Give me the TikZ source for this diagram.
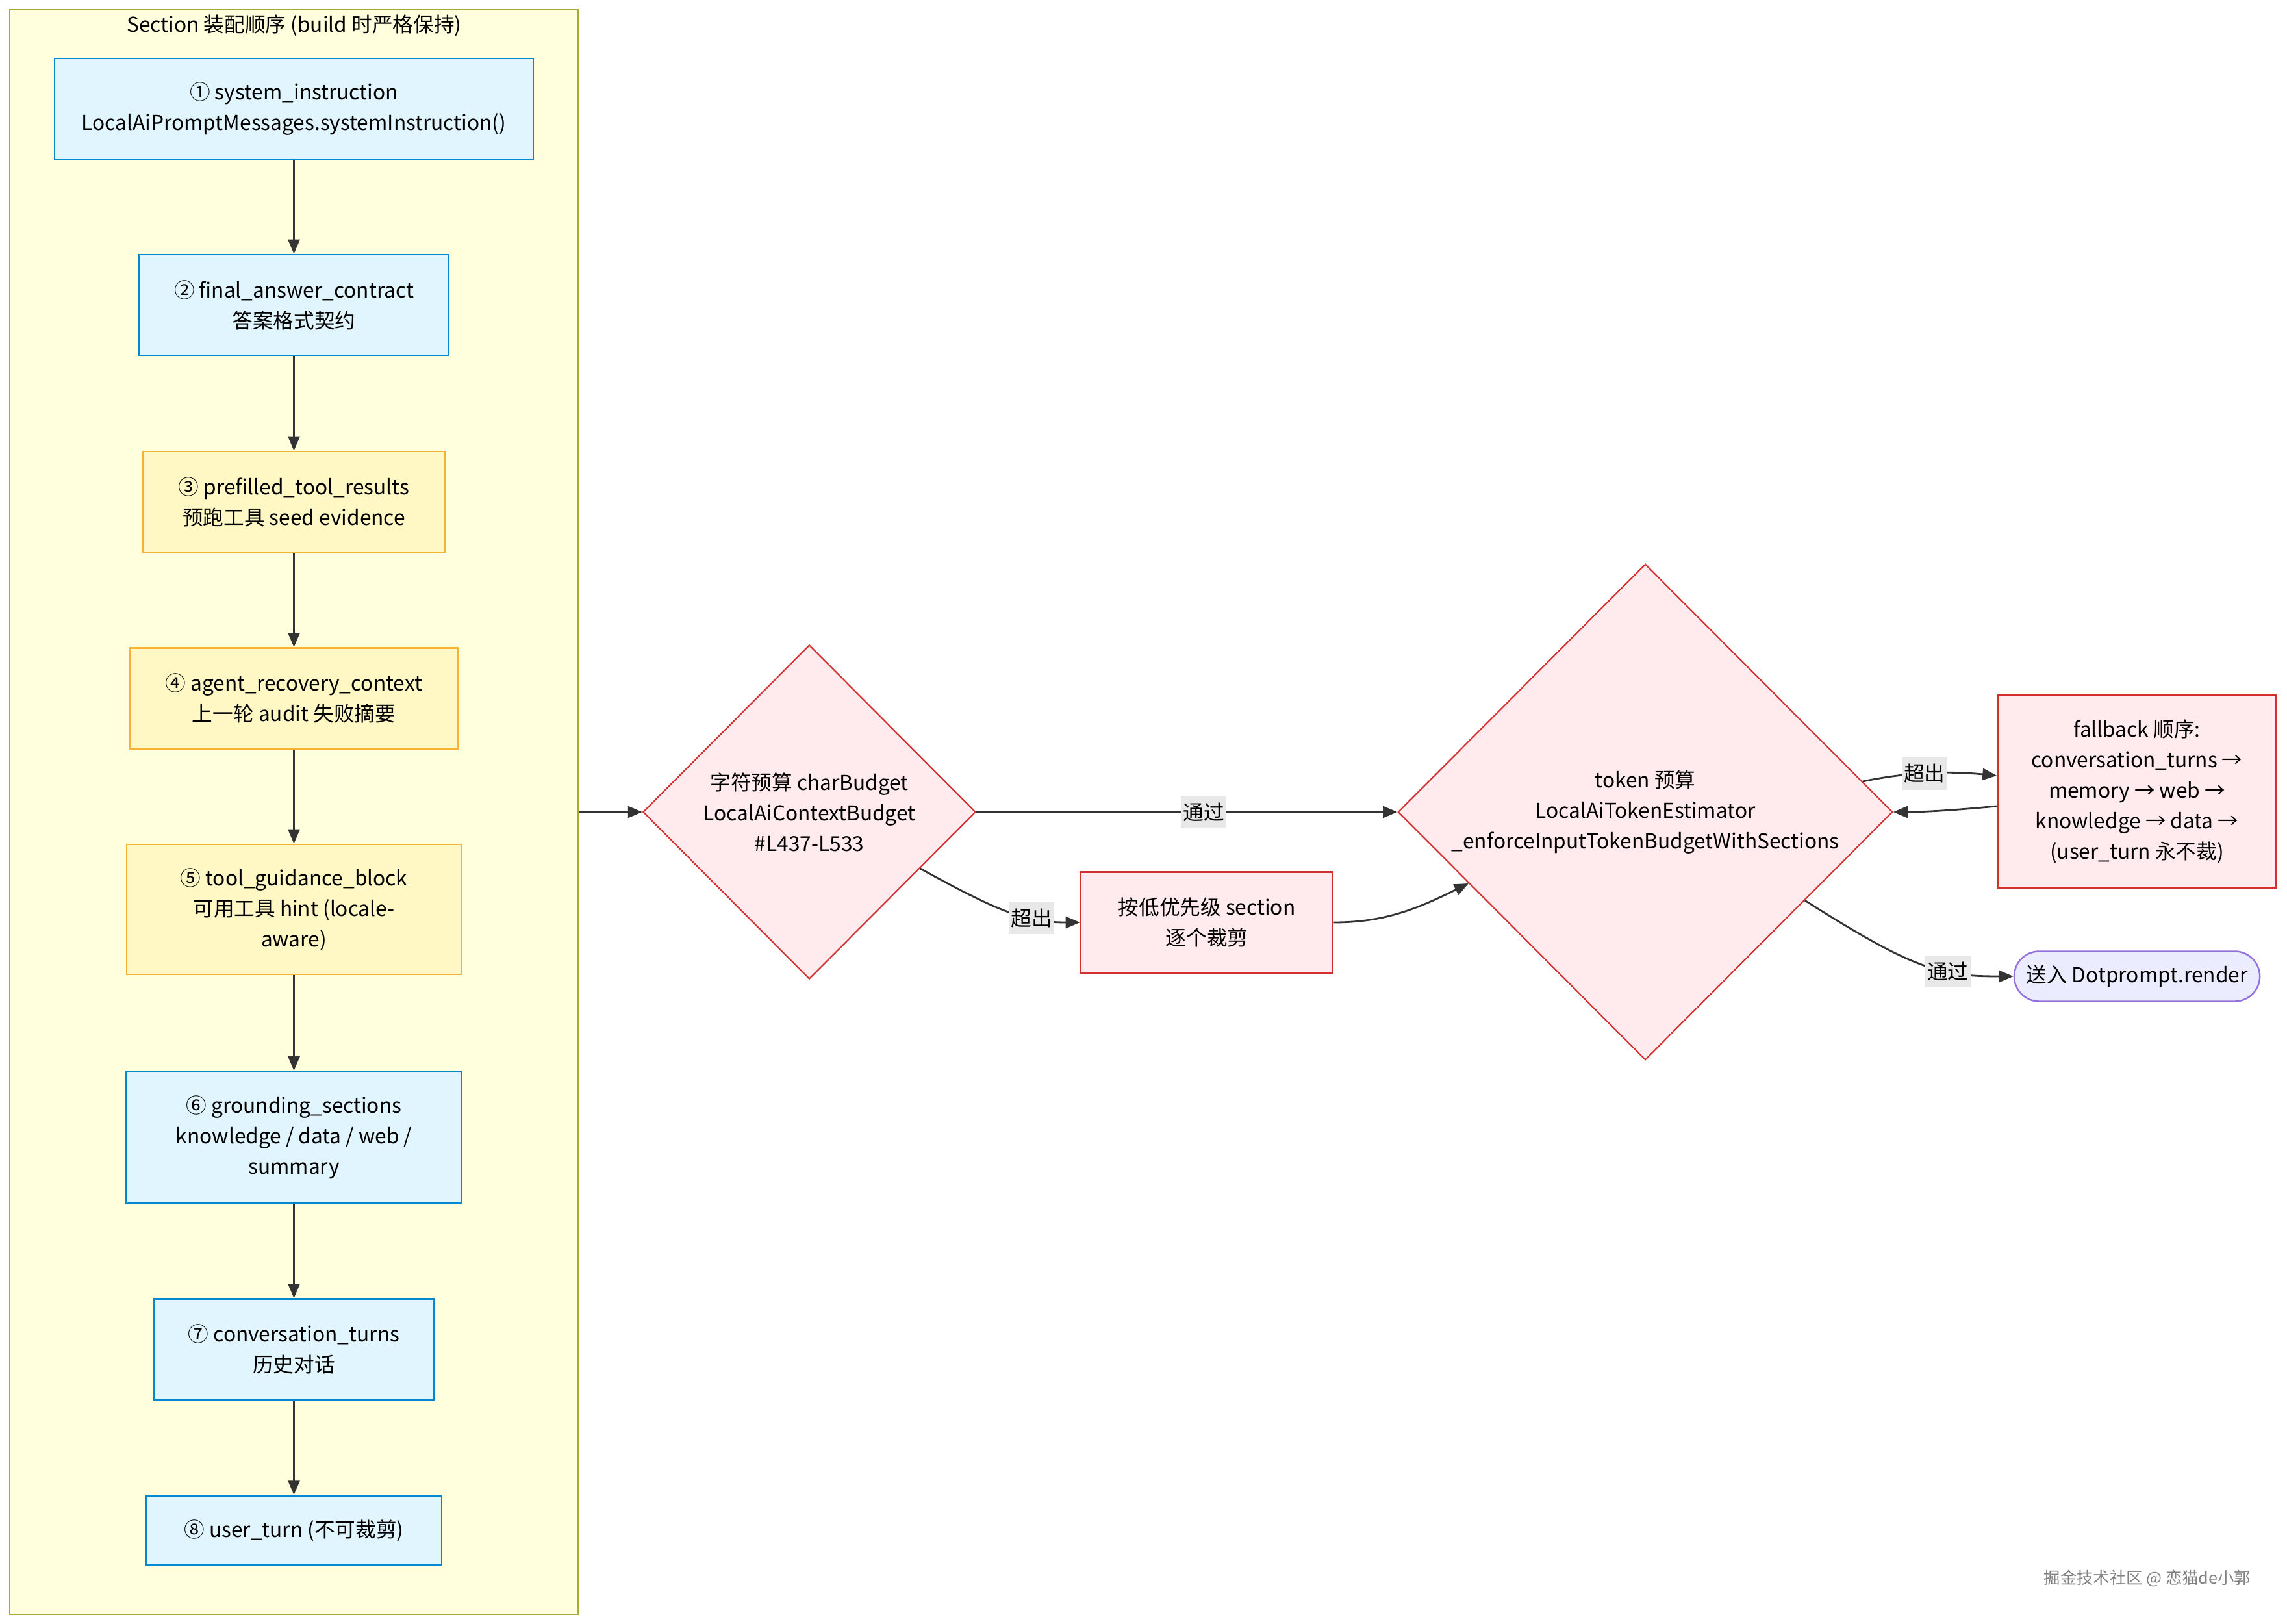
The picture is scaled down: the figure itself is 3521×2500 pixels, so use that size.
\documentclass[tikz,border=0pt]{standalone}
\usepackage{fontspec}
\setmainfont{Noto Sans CJK SC}
\usetikzlibrary{arrows.meta,shapes.geometric}

\definecolor{clusterfill}{HTML}{FFFFDE}
\definecolor{clusterline}{HTML}{AAAA33}
\definecolor{bluefill}{HTML}{E1F5FE}
\definecolor{blueline}{HTML}{0288D1}
\definecolor{yellowfill}{HTML}{FFF8C4}
\definecolor{yellowline}{HTML}{F5B335}
\definecolor{redfill}{HTML}{FFEBEE}
\definecolor{redline}{HTML}{D32F2F}
\definecolor{purplefill}{HTML}{ECECFF}
\definecolor{purpleline}{HTML}{9370DB}
\definecolor{edgegray}{HTML}{333333}
\definecolor{labelgray}{HTML}{E8E8E8}

\begin{document}
\begin{tikzpicture}[
    x=0.01cm, y=-0.01cm,
    every node/.style={font=\fontsize{9}{13.4}\selectfont, align=center, inner sep=0pt},
    section box/.style={draw=clusterline, fill=clusterfill, line width=0.6pt},
    blue node/.style={draw=blueline, fill=bluefill, line width=0.7pt},
    yellow node/.style={draw=yellowline, fill=yellowfill, line width=0.7pt},
    red node/.style={draw=redline, fill=redfill, line width=0.7pt},
    decision/.style={diamond, draw=redline, fill=redfill, line width=0.6pt},
    end node/.style={draw=purpleline, fill=purplefill, line width=0.7pt, rounded corners=0.385cm},
    flow/.style={draw=edgegray, line width=0.8pt, -{Triangle[length=2.2mm,width=1.8mm]}},
    edge label/.style={fill=labelgray, inner xsep=1pt, inner ysep=3pt}
    ]

\useasboundingbox (0,0) rectangle (3521,2500);

\node[section box, minimum width=8.745cm, minimum height=24.68cm] (sec) at (452.75,1250) {};
\node (secTitle) at (453,39) {Section 装配顺序 (build 时严格保持)};

\node[blue node, minimum width=7.37cm, minimum height=1.55cm] (s1) at (452.5,167.5)
    {① system\_instruction\\LocalAiPromptMessages.systemInstruction()};
\node[blue node, minimum width=4.77cm, minimum height=1.55cm] (s2) at (452.5,469.5)
    {② final\_answer\_contract\\答案格式契约};
\node[yellow node, minimum width=4.65cm, minimum height=1.55cm] (s3) at (452.5,772.5)
    {③ prefilled\_tool\_results\\预跑工具 seed evidence};
\node[yellow node, minimum width=5.05cm, minimum height=1.55cm] (s4) at (452.5,1075)
    {④ agent\_recovery\_context\\上一轮 audit 失败摘要};
\node[yellow node, minimum width=5.15cm, minimum height=2cm] (s5) at (452.5,1400)
    {⑤ tool\_guidance\_block\\可用工具 hint (locale-\\aware)};
\node[blue node, minimum width=5.16cm, minimum height=2.03cm] (s6) at (452.5,1751)
    {⑥ grounding\_sections\\knowledge / data / web /\\summary};
\node[blue node, minimum width=4.3cm, minimum height=1.55cm] (s7) at (452.5,2077)
    {⑦ conversation\_turns\\历史对话};
\node[blue node, minimum width=4.55cm, minimum height=1.07cm] (s8) at (452.5,2356)
    {⑧ user\_turn (不可裁剪)};

\node[decision, minimum width=5.12cm, minimum height=5.14cm] (charB) at (1246,1250)
    {字符预算 charBudget\\LocalAiContextBudget\\\#L437-L533};
\node[red node, minimum width=3.88cm, minimum height=1.55cm] (trim) at (1858,1420)
    {按低优先级 section\\逐个裁剪};
\node[decision, minimum width=7.61cm, minimum height=7.63cm] (tokB) at (2533,1250)
    {token 预算\\LocalAiTokenEstimator\\\_enforceInputTokenBudgetWithSections};
\node[red node, minimum width=4.29cm, minimum height=2.97cm] (fb) at (3290,1218)
    {fallback 顺序:\\conversation\_turns →\\memory → web →\\knowledge → data →\\(user\_turn 永不裁)};
\node[end node, minimum width=3.78cm, minimum height=0.77cm] (render) at (3290,1503)
    {送入 Dotprompt.render};

\node[text=gray, font=\fontsize{7.2}{8}\selectfont] (mark) at (3306,2430)
    {掘金技术社区 @ 恋猫de小郭};

\foreach \a/\b in {s1/s2,s2/s3,s3/s4,s4/s5,s5/s6,s6/s7,s7/s8}
    \draw[flow] (\a) -- (\b);

\draw[flow] (sec.east) -- (charB.west);
\draw[flow] (charB.east) -- node[edge label, pos=0.54] {通过} (tokB.west);
\draw[flow] (charB.-27) .. controls (1540,1405) and (1580,1420) .. node[edge label, pos=0.66] {超出} (trim.west);
\draw[flow] (trim.east) .. controls (2130,1420) and (2180,1400) .. (tokB.-158);
\draw[flow] (tokB.8) .. controls (2930,1190) and (2990,1186) .. node[edge label, pos=0.5] {超出} ([yshift=0.24cm]fb.west);
\draw[flow] ([yshift=-0.23cm]fb.west) .. controls (3000,1248) and (2960,1250) .. (tokB.east);
\draw[flow] (tokB.-29) .. controls (2950,1495) and (2990,1503) .. node[edge label, pos=0.64] {通过} (render.west);

\end{tikzpicture}
\end{document}
